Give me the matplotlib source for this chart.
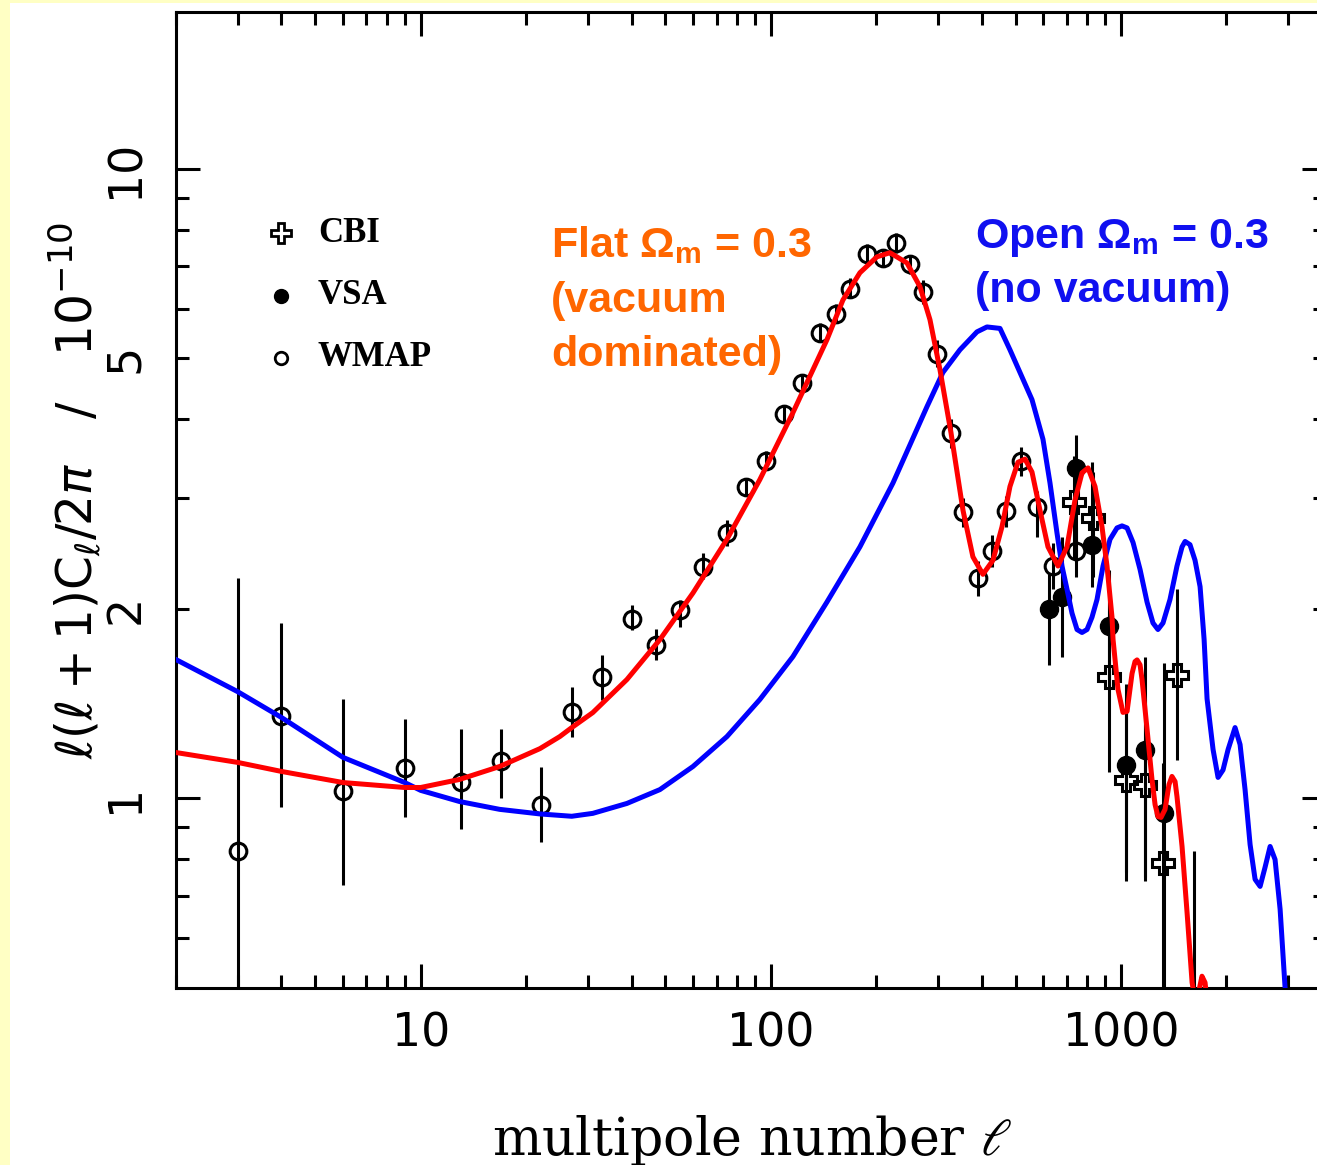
import matplotlib
matplotlib.use("Agg")
import matplotlib.pyplot as plt
from matplotlib.patches import Rectangle

# theory curves (multipole, l(l+1)C_l/2pi in 1e-10)
flat_l = [2.0, 3.0, 4.0, 6.0, 9.0, 10, 12.9, 16.8, 21.9, 24.95, 27.0, 31.0, 38.8, 48.2, 59.9,
          74.9, 93.0, 115.6, 144.5, 160.6, 179.6, 200.9, 218.8, 244.7, 266.6, 284.7, 304.0,
          326.9, 353.7, 377.6, 403.3, 430.9, 457.1, 481.8, 507.8, 531.8, 556.9, 586.9, 618.6,
          660.7, 701.0, 739.0, 773.8, 804.9, 842.9, 882.6, 912.0, 942.6, 948.9, 980.4, 1013,
          1040.6, 1075.4, 1096.5, 1111.4, 1133.6, 1148.2, 1187, 1226, 1251, 1275, 1301, 1336,
          1371, 1398, 1427, 1445, 1494, 1544, 1596, 1638, 1682, 1703, 1738, 1773]
flat_v = [1.183, 1.141, 1.104, 1.060, 1.041, 1.041, 1.072, 1.124, 1.200, 1.254, 1.296, 1.369,
          1.545, 1.788, 2.12, 2.58, 3.21, 4.10, 5.35, 6.19, 6.84, 7.25, 7.36, 7.09, 6.50, 5.76,
          4.80, 3.81, 2.87, 2.42, 2.27, 2.39, 2.70, 3.13, 3.42, 3.46, 3.30, 2.87, 2.51, 2.34,
          2.51, 2.98, 3.29, 3.35, 3.13, 2.70, 2.34, 1.94, 1.79, 1.49, 1.37, 1.375, 1.58, 1.65,
          1.66, 1.63, 1.545, 1.287, 1.072, 0.978, 0.936, 0.933, 0.961, 1.052, 1.084, 1.064,
          1.007, 0.839, 0.659, 0.51, 0.47, 0.505, 0.522, 0.51, 0.46]

open_l = [2.0, 3.0, 4.0, 6.0, 9.0, 10, 12.9, 16.8, 21.9, 24.95, 27.0, 31.0, 38.8, 48.2, 59.9,
          74.9, 93.0, 115.6, 144.5, 179.6, 223.2, 279.1, 310.0, 346.7, 387.8, 414.1, 451.2,
          481.8, 556.9, 598.6, 626.9, 656.4, 678.3, 701.0, 724.4, 748.8, 773.8, 799.7, 826.2,
          854.0, 888.5, 930.3, 974.0, 1006.6, 1040.6, 1082.4, 1133.6, 1187, 1234, 1275, 1318,
          1380, 1445, 1494, 1524, 1574, 1627, 1682, 1727, 1761, 1832, 1893, 1956, 2022, 2117,
          2188, 2261, 2337, 2415, 2496, 2578, 2666, 2754, 2847, 2942, 3040]
open_v = [1.662, 1.478, 1.345, 1.162, 1.060, 1.030, 0.989, 0.961, 0.945, 0.940, 0.937, 0.947,
          0.982, 1.033, 1.124, 1.254, 1.436, 1.68, 2.05, 2.51, 3.17, 4.19, 4.75, 5.16, 5.51,
          5.61, 5.58, 5.16, 4.30, 3.72, 3.17, 2.64, 2.34, 2.15, 1.97, 1.855, 1.835, 1.855,
          1.94, 2.07, 2.34, 2.58, 2.69, 2.71, 2.69, 2.55, 2.31, 2.05, 1.90, 1.855, 1.90, 2.07,
          2.34, 2.51, 2.56, 2.53, 2.39, 2.17, 1.79, 1.44, 1.196, 1.08, 1.11, 1.196, 1.296,
          1.218, 1.033, 0.845, 0.744, 0.725, 0.777, 0.839, 0.80, 0.667, 0.50, 0.45]

# WMAP
wmap_l = [3, 4, 6, 9, 13, 17, 22, 27, 33, 40, 47, 55, 64, 75, 85, 97, 109, 123, 138, 153,
          168, 188, 209, 228, 250, 272, 298, 327, 354, 390, 428, 469, 518, 575, 640, 743]
wmap_v = [0.824, 1.354, 1.026, 1.116, 1.064, 1.145, 0.978, 1.374, 1.562, 1.93, 1.756, 1.995,
          2.335, 2.64, 3.125, 3.44, 4.08, 4.57, 5.49, 5.88, 6.45, 7.33, 7.22, 7.63, 7.05,
          6.38, 5.09, 3.81, 2.85, 2.24, 2.47, 2.86, 3.44, 2.90, 2.34, 2.47]
wmap_lo = [0.3, 0.971, 0.730, 0.933, 0.893, 1.0, 0.852, 1.254, 1.436, 1.85, 1.66, 1.875,
           2.23, 2.52, 3.02, 3.33, 3.95, 4.45, 5.3, 5.7, 6.25, 7.1, 7.0, 7.35, 6.8, 6.1,
           4.85, 3.6, 2.7, 2.1, 2.33, 2.7, 3.25, 2.6, 2.15, 2.25]
wmap_hi = [2.24, 1.90, 1.44, 1.335, 1.287, 1.29, 1.124, 1.506, 1.69, 2.03, 1.86, 2.07,
           2.45, 2.77, 3.23, 3.56, 4.22, 4.7, 5.7, 6.1, 6.7, 7.6, 7.45, 7.9, 7.3, 6.65,
           5.35, 4.0, 3.0, 2.38, 2.62, 3.02, 3.62, 3.08, 2.55, 2.7]

# VSA
vsa_l = [622, 678, 743, 826, 925, 1033, 1172, 1328]
vsa_v = [2.00, 2.09, 3.35, 2.53, 1.88, 1.13, 1.196, 0.95]
vsa_lo = [1.63, 1.68, 2.39, 2.17, 1.49, 0.763, 0.75, 0.40]
vsa_hi = [2.27, 2.60, 3.78, 3.42, 2.31, 1.52, 1.68, 1.64]

# CBI
cbi_l = [735, 832, 925, 1033, 1172, 1320, 1445, 1617]
cbi_v = [2.96, 2.79, 1.56, 1.07, 1.05, 0.79, 1.57, 0.45]
cbi_lo = [2.40, 2.25, 1.10, 0.74, 0.74, 0.40, 1.15, 0.30]
cbi_hi = [3.50, 3.30, 2.07, 1.44, 1.44, 1.14, 2.15, 0.824]

x_major = [10, 100, 1000]
x_minor = [2, 3, 4, 5, 6, 7, 8, 9, 20, 30, 40, 50, 60, 70, 80, 90,
           200, 300, 400, 500, 600, 700, 800, 900, 2000, 3000]
y_major = [1, 10]
y_minor = [0.6, 0.7, 0.8, 0.9, 2, 3, 4, 5, 6, 7, 8, 9]
y_minor_lab = ['', '', '', '', '2', '', '', '5', '', '', '', '']

plt.rcParams['mathtext.rm'] = 'Liberation Sans:bold'
plt.rcParams['mathtext.it'] = 'Liberation Sans:bold'
plt.rcParams['mathtext.bf'] = 'Liberation Sans:bold'

fig = plt.figure(figsize=(13.17, 11.65), dpi=100)
fig.patch.set_facecolor('#FFFFC4')
fig.patches.append(Rectangle((10 / 1317, 0), 1, 1 - 3 / 1165, transform=fig.transFigure,
                             facecolor='white', edgecolor='none', zorder=-10))

ax = fig.add_axes([176 / 1317, 177 / 1165, 1150 / 1317, 976 / 1165])
ax.set_xscale('log')
ax.set_yscale('log')
ax.set_xlim(2.0, 3850)
ax.set_ylim(0.5, 17.75)


def err(v, lo, hi):
    return [[a - b for a, b in zip(v, lo)], [b - a for a, b in zip(v, hi)]]


ax.errorbar(wmap_l, wmap_v, yerr=err(wmap_v, wmap_lo, wmap_hi), fmt='o', ms=12,
            mfc='none', mec='black', mew=2.2, ecolor='black', elinewidth=2.2, capsize=0,
            zorder=2)
ax.errorbar(vsa_l, vsa_v, yerr=err(vsa_v, vsa_lo, vsa_hi), fmt='o', ms=13,
            mfc='black', mec='black', ecolor='black', elinewidth=2.2, capsize=0, zorder=2)
ax.errorbar(cbi_l, cbi_v, yerr=err(cbi_v, cbi_lo, cbi_hi), fmt='P', ms=16,
            mfc='none', mec='black', mew=2.2, ecolor='black', elinewidth=2.2, capsize=0,
            zorder=2)

ax.plot(open_l, open_v, color='#0000FF', lw=3.6, zorder=3, solid_joinstyle='round')
ax.plot(flat_l, flat_v, color='#FF0000', lw=3.6, zorder=4, solid_joinstyle='round')

# axes frame and ticks
for s in ax.spines.values():
    s.set_linewidth(2.2)
ax.set_xticks(x_major, labels=[str(v) for v in x_major])
ax.set_xticks(x_minor, labels=[''] * len(x_minor), minor=True)
ax.set_yticks(y_major, labels=['1', '10'])
ax.set_yticks(y_minor, labels=y_minor_lab, minor=True)
ax.tick_params(which='both', direction='in', top=True, right=True, width=2.2,
               labelsize=33, labelfontfamily='DejaVu Sans')
ax.tick_params(which='major', length=17)
ax.tick_params(which='minor', length=9.5)
ax.tick_params(axis='x', which='both', pad=17)
ax.tick_params(axis='y', which='both', pad=20)
for lab in ax.get_yticklabels(which='both'):
    lab.set_rotation(90)
    lab.set_va('center')

# legend drawn by hand
leg_x = (281 - 176) / 1150
txt_x = (318 - 176) / 1150
rows = [(988 - 233) / 976, (988 - 296) / 976, (988 - 358) / 976]
ax.plot([leg_x], [rows[0]], 'P', ms=14, mfc='none', mec='black', mew=2.0,
        transform=ax.transAxes, clip_on=False)
ax.plot([leg_x], [rows[1]], 'o', ms=10, mfc='black', mec='black',
        transform=ax.transAxes, clip_on=False)
ax.plot([leg_x], [rows[2]], 'o', ms=9, mfc='none', mec='black', mew=2.0,
        transform=ax.transAxes, clip_on=False)
for name, yy in zip(['CBI', 'VSA', 'WMAP'], rows):
    ax.text(txt_x, yy, name, transform=ax.transAxes, va='center', ha='left',
            fontsize=25, fontweight='bold', family='Liberation Serif')

# model labels
orange = '#FF6600'
blue = '#1010F0'
fig.text(551 / 1317, 1 - 257 / 1165, r'Flat $\Omega_{\mathrm{m}}$ = 0.3', color=orange,
         fontsize=31, fontweight='bold', family='Liberation Sans', math_fontfamily='custom')
fig.text(551 / 1317, 1 - 312 / 1165, '(vacuum', color=orange,
         fontsize=31, fontweight='bold', family='Liberation Sans')
fig.text(551 / 1317, 1 - 366 / 1165, 'dominated)', color=orange,
         fontsize=31, fontweight='bold', family='Liberation Sans')
fig.text(975 / 1317, 1 - 248 / 1165, r'Open $\Omega_{\mathrm{m}}$ = 0.3', color=blue,
         fontsize=31, fontweight='bold', family='Liberation Sans', math_fontfamily='custom')
fig.text(975 / 1317, 1 - 302 / 1165, '(no vacuum)', color=blue,
         fontsize=31, fontweight='bold', family='Liberation Sans')

# axis titles
fig.text(752 / 1317, 1 - 1140 / 1165, r'multipole number $\ell$', ha='center', va='center',
         fontsize=37.5, family='DejaVu Serif', math_fontfamily='dejavuserif')
fig.text(75 / 1317, 1 - 490 / 1165, r'$\ell(\ell+1)\mathrm{C}_{\ell}/2\pi$   /   $10^{-10}$',
         rotation=90, ha='center', va='center', fontsize=35, family='DejaVu Sans',
         math_fontfamily='dejavusans')

fig.savefig('out.png', dpi=100, facecolor=fig.get_facecolor())
